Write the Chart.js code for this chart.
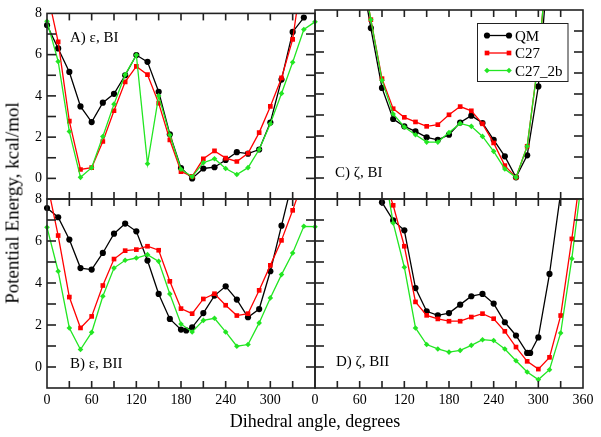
<!DOCTYPE html>
<html>
<head>
<meta charset="utf-8">
<script src="https://cdn.jsdelivr.net/npm/chart.js@4.4.0/dist/chart.umd.min.js"></script>
<style>
    body { margin: 0; background: #fff; }
    #wrap { position: relative; width: 601px; height: 437px; overflow: hidden; }
    #wrap canvas { position: absolute; left: 0; top: 0; }
    .title { position: absolute; font-family: 'Liberation Serif', 'Times New Roman', serif; color: #000; white-space: nowrap; line-height: 19px; }
    #xTitle { font-size: 18px; left: 315px; top: 412px; transform: translateX(-50%); }
    #yTitle { font-size: 19px; left: 12px; top: 203px; transform: translate(-50%, -50%) rotate(-90deg); }
</style>
</head>
<body>
<div id="wrap">
    <canvas id="panelA" width="601" height="437"></canvas>
    <canvas id="panelB" width="601" height="437"></canvas>
    <canvas id="panelC" width="601" height="437"></canvas>
    <canvas id="panelD" width="601" height="437"></canvas>
    <div class="title" id="xTitle">Dihedral angle, degrees</div>
    <div class="title" id="yTitle">Potential Energy, kcal/mol</div>
</div>
<script>
//Dihedral energy profiles (4 panels)

const colors = {
    qm: "#000000",
    c27: "#ff0000",
    c27b: "#22e622",
    frame: "#222222"
};
const serif = "'Liberation Serif', 'Times New Roman', serif";

const seriesNames = ["QM", "C27", "C27_2b"];
const panelLabels = ["A) ε, BI", "B) ε, BII", "C) ζ, BI", "D) ζ, BII"];

const xTickMarks = [30, 60, 90, 120, 150, 180, 210, 240, 270, 300, 330];
const yTickMarks = [0, 1, 2, 3, 4, 5, 6, 7];

const angles = [0, 15, 30, 45, 60, 75, 90, 105, 120, 135, 150, 165, 180,
    195, 210, 225, 240, 255, 270, 285, 300, 315, 330, 345, 360];
const anglesQmB = [0, 15, 30, 45, 60, 75, 90, 105, 120, 135, 150, 165, 180, 187,
    195, 210, 225, 240, 255, 270, 285, 300, 315, 330, 345];
const anglesQmD = [75, 90, 105, 120, 135, 150, 165, 180, 195, 210, 225, 240,
    255, 270, 285, 289, 300, 315, 330, 345];

// A) epsilon, BI
const qmA = [7.43, 6.3, 5.16, 3.49, 2.73, 3.67, 4.1, 5.0, 5.98, 5.65, 4.2, 2.14, 0.5,
    0.0, 0.48, 0.54, 0.89, 1.27, 1.2, 1.4, 2.71, 4.79, 7.1, 7.8, null];
const c27A = [9.1, 6.62, 2.78, 0.43, 0.52, 1.79, 3.28, 4.68, 5.43, 5.03, 3.65, 1.86, 0.33,
    0.1, 0.95, 1.33, 0.98, 0.82, 1.22, 2.22, 3.49, 4.87, 6.74, 10.5, null];
const c27bA = [7.62, 5.67, 2.27, 0.05, 0.52, 2.03, 3.6, 5.03, 5.98, 0.71, 4.0, 2.1, 0.44,
    0.08, 0.76, 0.95, 0.48, 0.19, 0.52, 1.4, 2.65, 4.12, 5.63, 7.22, 7.59];

// B) epsilon, BII
const qmB = [7.57, 7.13, 6.07, 4.71, 4.64, 5.43, 6.35, 6.83, 6.46, 5.07, 3.48, 2.29, 1.78, 1.74,
    1.89, 2.57, 3.4, 3.84, 3.21, 2.37, 2.76, 4.56, 6.73, 8.9, 10.5];
const c27B = [8.8, 6.26, 3.33, 1.86, 2.41, 3.88, 5.14, 5.54, 5.59, 5.75, 5.56, 4.08, 2.78,
    2.54, 3.24, 3.49, 2.94, 2.45, 2.54, 3.65, 4.84, 6.03, 7.46, 9.0, null];
const c27bB = [6.65, 4.56, 1.86, 0.83, 1.65, 3.37, 4.71, 5.08, 5.19, 5.35, 5.03, 3.48, 2.05,
    1.67, 2.22, 2.32, 1.67, 0.99, 1.07, 2.1, 3.29, 4.4, 5.43, 6.7, 6.68];

// C) zeta, BI
const qmC = [null, null, null, null, 10.2, 7.14, 4.29, 2.81, 2.46, 2.22, 1.94, 1.82, 2.06,
    2.64, 2.97, 2.62, 1.82, 1.03, 0.03, 1.08, 4.36, 11.0, null, null, null];
const c27C = [null, null, null, null, 10.5, 7.54, 4.73, 3.3, 2.89, 2.67, 2.46, 2.54, 3.01,
    3.4, 3.2, 2.58, 1.67, 0.59, 0.03, 1.51, 5.6, 11.5, null, null, null];
const c27bC = [null, null, null, null, 10.5, 7.54, 4.65, 3.05, 2.43, 2.06, 1.71, 1.71, 2.17,
    2.6, 2.46, 1.98, 1.27, 0.43, 0.03, 1.51, 5.6, 11.5, null, null, null];

// D) zeta, BII
const qmD = [9.0, 7.84, 6.98, 6.51, 3.76, 2.65, 2.46, 2.57, 2.97, 3.37, 3.48, 3.02,
    2.13, 1.5, 0.67, 0.67, 1.41, 4.43, 8.3, 12.0];
const c27D = [null, null, null, null, null, null, 9.3, 7.7, 5.75, 3.1, 2.46, 2.29, 2.18,
    2.18, 2.38, 2.54, 2.3, 1.7, 0.95, 0.27, -0.1, 0.46, 2.45, 6.1, 10.1];
const c27bD = [null, null, null, null, null, null, 10.0, 6.86, 4.75, 1.86, 1.07, 0.86, 0.71,
    0.79, 1.03, 1.3, 1.26, 0.86, 0.3, -0.24, -0.6, -0.13, 1.62, 5.16, 9.4];


const seriesStyle = {
    "QM": { color: colors.qm, point: "circle", radius: 3.1, order: 3 },
    "C27": { color: colors.c27, point: "rect", radius: 3.3, order: 2 },
    "C27_2b": { color: colors.c27b, point: "rectRot", radius: 2.8, order: 1 }
};

function series(name, xs, ys) {
    const s = seriesStyle[name];
    return {
        label: name,
        data: xs.map((x, i) => ({ x: x, y: ys[i] })),
        borderColor: s.color,
        backgroundColor: s.color,
        pointBackgroundColor: s.color,
        pointStyle: s.point,
        pointRadius: s.radius,
        pointBorderWidth: 0,
        borderWidth: 1.3,
        tension: 0,
        order: s.order,
        clip: { left: 3, right: 3, top: 0, bottom: 0 }
    };
}

function drawMarker(ctx, style, x, y) {
    ctx.fillStyle = style.color;
    ctx.beginPath();
    if (style.point === "circle") {
        ctx.arc(x, y, style.radius, 0, Math.PI * 2);
    } else if (style.point === "rect") {
        const h = style.radius * Math.SQRT1_2;
        ctx.rect(x - h, y - h, 2 * h, 2 * h);
    } else {
        const r = style.radius;
        ctx.moveTo(x - r, y); ctx.lineTo(x, y - r); ctx.lineTo(x + r, y); ctx.lineTo(x, y + r);
        ctx.closePath();
    }
    ctx.fill();
}

// frame, inward ticks and panel label
const framePlugin = {
    id: "frame",
    afterDraw(chart, args, opts) {
        const ctx = chart.ctx;
        const a = chart.chartArea;
        const sx = chart.scales.x, sy = chart.scales.y;
        ctx.save();
        ctx.setLineDash([]);
        ctx.strokeStyle = colors.frame;
        ctx.lineWidth = 1.6;
        ctx.strokeRect(a.left, a.top, a.right - a.left, a.bottom - a.top);
        // tick marks pointing inwards, placed by the scales
        ctx.fillStyle = colors.frame;
        xTickMarks.forEach(v => {
            const px = sx.getPixelForValue(v);
            ctx.fillRect(px - 0.8, a.top, 1.6, 7);
            ctx.fillRect(px - 0.8, a.bottom - 7, 1.6, 7);
        });
        yTickMarks.forEach(v => {
            const py = sy.getPixelForValue(v);
            ctx.fillRect(a.left, py - 0.8, 9, 1.6);
            ctx.fillRect(a.right - 9, py - 0.8, 9, 1.6);
        });
        ctx.fillStyle = "#000";
        ctx.font = "15px " + serif;
        ctx.textBaseline = "alphabetic";
        ctx.fillText(opts.label, a.left + opts.dx, a.top + opts.dy);
        ctx.restore();
    }
};

// legend box (panel C only)
const boxLegendPlugin = {
    id: "boxLegend",
    afterDraw(chart) {
        const ctx = chart.ctx;
        ctx.save();
        ctx.fillStyle = "#fff";
        ctx.fillRect(477.5, 23.5, 90.5, 58);
        ctx.strokeStyle = colors.frame;
        ctx.lineWidth = 1;
        ctx.strokeRect(477.5, 23.5, 90.5, 58);
        seriesNames.forEach((name, i) => {
            const s = seriesStyle[name];
            const ry = 35.5 + i * 17.5;
            ctx.strokeStyle = s.color;
            ctx.lineWidth = 1.3;
            ctx.beginPath();
            ctx.moveTo(487, ry); ctx.lineTo(509, ry);
            ctx.stroke();
            drawMarker(ctx, s, 487, ry);
            drawMarker(ctx, s, 509, ry);
            ctx.fillStyle = "#000";
            ctx.font = "15px " + serif;
            ctx.textBaseline = "alphabetic";
            ctx.fillText(name, 515, ry + 5);
        });
        ctx.restore();
    }
};

function panelScales(showX, showY, hide360) {
    return {
        x: {
            type: "linear", min: 0, max: 360, display: showX,
            grid: { display: false, drawTicks: false },
            border: { display: false },
            ticks: {
                stepSize: 60, autoSkip: false, maxRotation: 0, padding: 4,
                color: "#000", font: { family: serif, size: 14 },
                callback: v => (hide360 && v === 360) ? "" : v
            },
            afterFit: s => { s.height = showX ? 25 : 0; }
        },
        y: {
            type: "linear", min: -1, max: 8, display: showY,
            grid: { display: false, drawTicks: false },
            border: { display: false },
            ticks: {
                stepSize: 1, autoSkip: false, padding: 5,
                color: "#000", font: { family: serif, size: 14 },
                callback: v => (v >= 0 && v % 2 === 0) ? v : ""
            },
            afterFit: s => { s.width = showY ? 47 : 0; }
        }
    };
}

function makePanel(id, datasets, label, dx, dy, padding, showX, showY, hide360, extra) {
    return new Chart(document.getElementById(id), {
        type: "line",
        data: { datasets: datasets },
        options: {
            responsive: false,
            animation: false,
            devicePixelRatio: 1,
            events: [],
            layout: { padding: padding },
            scales: panelScales(showX, showY, hide360),
            plugins: {
                legend: { display: false },
                tooltip: { enabled: false },
                frame: { label: label, dx: dx, dy: dy }
            }
        },
        plugins: extra ? [framePlugin, boxLegendPlugin] : [framePlugin]
    });
}

makePanel("panelA", [
    series("QM", angles, qmA),
    series("C27", angles, c27A),
    series("C27_2b", angles, c27bA)
], panelLabels[0], 23, 29, { left: 0, top: 10, right: 286, bottom: 238 }, false, true, false, false);

makePanel("panelB", [
    series("QM", anglesQmB, qmB),
    series("C27", angles, c27B),
    series("C27_2b", angles, c27bB)
], panelLabels[1], 23, 169, { left: 0, top: 199, right: 286, bottom: 24 }, true, true, true, false);

makePanel("panelC", [
    series("QM", angles, qmC),
    series("C27", angles, c27C),
    series("C27_2b", angles, c27bC)
], panelLabels[2], 20, 167, { left: 315, top: 10, right: 18, bottom: 238 }, false, false, false, true);

makePanel("panelD", [
    series("QM", anglesQmD, qmD),
    series("C27", angles, c27D),
    series("C27_2b", angles, c27bD)
], panelLabels[3], 21, 167, { left: 315, top: 199, right: 18, bottom: 24 }, true, false, false, false);
</script>
</body>
</html>
